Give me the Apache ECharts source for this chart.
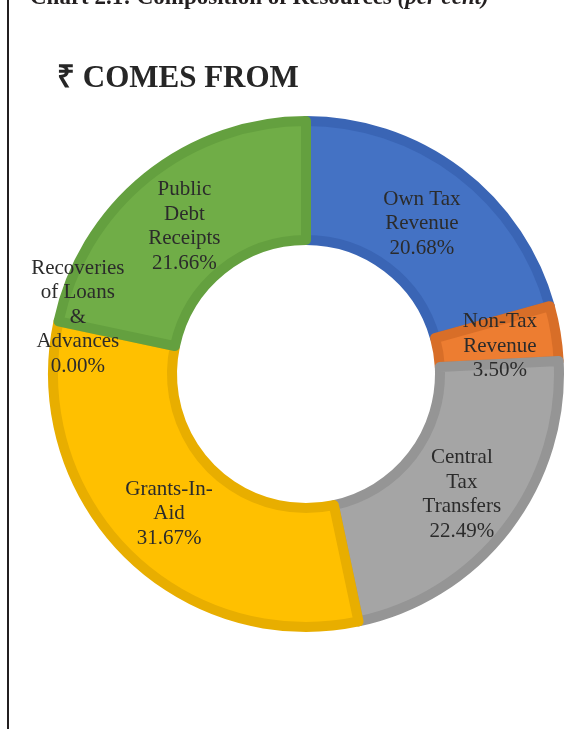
<!DOCTYPE html>
<html>
<head>
<meta charset="utf-8">
<style>
  html, body { margin: 0; padding: 0; background: #ffffff; }
  #chart { width: 565px; height: 729px; }
</style>
<script src="https://cdn.jsdelivr.net/npm/echarts@6/dist/echarts.min.js"></script>
</head>
<body>
<div id="chart"></div>
<script>
// Sources of resources, per cent of total receipts
const categories = [
  'Own Tax\nRevenue',
  'Non-Tax\nRevenue',
  'Central\nTax\nTransfers',
  'Grants-In-\nAid',
  'Recoveries\nof Loans\n&\nAdvances',
  'Public\nDebt\nReceipts'
];
const shares = [20.68, 3.50, 22.49, 31.67, 0.00, 21.66];
const fillColors = ['#4472C4', '#ED7D31', '#A5A5A5', '#FFC000', '#5B9BD5', '#70AD47'];
const edgeColors = ['#3A65B5', '#D86E28', '#959595', '#E8AE00', '#4F8BC3', '#64A03F'];
const labelOffsets = [[-3, 6], [0, 4], [0, 1], [2, 1], [-36, -16], [2, 5]];

const chart = echarts.init(document.getElementById('chart'), null, { renderer: 'canvas' });

const data = categories.map((name, i) => ({
  name: name,
  value: shares[i],
  itemStyle: {
    color: fillColors[i],
    borderColor: edgeColors[i],
    borderWidth: shares[i] > 0 ? 10 : 0
  },
  label: { offset: labelOffsets[i] }
}));

chart.setOption({
  animation: false,
  backgroundColor: '#ffffff',
  graphic: [
    {
      type: 'line',
      shape: { x1: 8, y1: 0, x2: 8, y2: 729 },
      style: { stroke: '#231f20', lineWidth: 2 }
    },
    {
      type: 'text',
      left: 30,
      top: -13,
      style: {
        text: '{b|Chart 2.1: Composition of Resources }{i|(per cent)}',
        rich: {
          b: { fontFamily: 'Liberation Serif', fontWeight: 'bold', fontSize: 23, fill: '#231f20' },
          i: { fontFamily: 'Liberation Serif', fontWeight: 'bold', fontStyle: 'italic', fontSize: 23, fill: '#231f20' }
        }
      }
    },
    {
      type: 'text',
      left: 57,
      top: 63,
      style: {
        text: '₹ COMES FROM',
        fontFamily: 'Liberation Serif',
        fontWeight: 'bold',
        fontSize: 31,
        fill: '#262626'
      }
    }
  ],
  series: [
    {
      type: 'pie',
      center: [306, 374],
      radius: [134, 253],
      startAngle: 90,
      clockwise: true,
      avoidLabelOverlap: false,
      minAngle: 0,
      emphasis: { disabled: true },
      label: {
        show: true,
        position: 'inside',
        formatter: p => p.name + '\n' + p.value.toFixed(2) + '%',
        fontFamily: 'Liberation Serif',
        fontSize: 21,
        lineHeight: 24.5,
        color: '#2b2b2b',
        align: 'center'
      },
      labelLine: { show: false },
      data: data
    }
  ]
});
</script>
</body>
</html>
